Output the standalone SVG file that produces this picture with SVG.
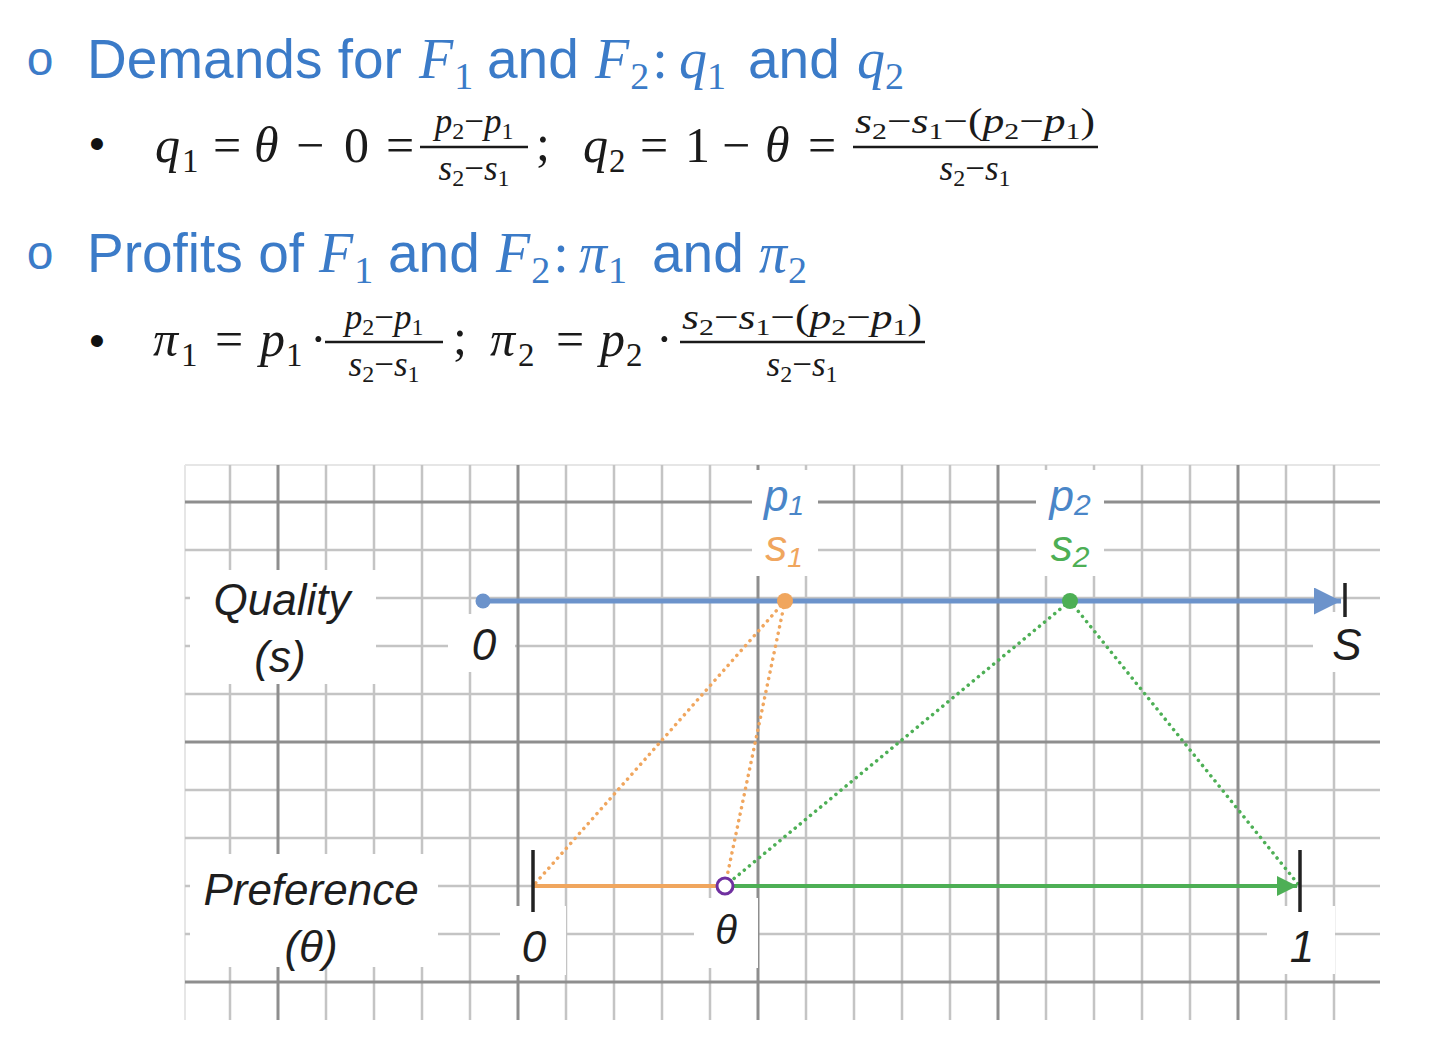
<svg xmlns="http://www.w3.org/2000/svg" width="1440" height="1039" viewBox="0 0 1440 1039">
<style>
.title{font-family:"Liberation Sans",Arial,sans-serif;font-size:55px;fill:#3B7BC8}
.tm{font-family:"Liberation Serif","DejaVu Serif",serif;font-style:italic;font-size:56px;fill:#3B7BC8}
.ts{font-style:normal;font-size:38px}
.tc{font-style:normal}
.bul{font-family:"Liberation Sans",Arial,sans-serif;font-size:48px;fill:#3B7BC8;text-anchor:middle}
.dot{font-family:"Liberation Sans",Arial,sans-serif;font-size:44px;fill:#111;text-anchor:middle}
.mi{font-family:"Liberation Serif","DejaVu Serif",serif;font-style:italic;font-size:50px;fill:#1a1a1a}
.mn{font-family:"Liberation Serif","DejaVu Serif",serif;font-size:50px;fill:#1a1a1a}
.ms{font-family:"Liberation Serif","DejaVu Serif",serif;font-size:33px;fill:#1a1a1a}
.fr{font-family:"Liberation Serif","DejaVu Serif",serif;font-size:35px;fill:#1a1a1a;text-anchor:middle}
.fi{font-style:italic}
.bar{stroke:#1a1a1a;stroke-width:2.5}
.gmin{stroke:#c4c4c4;stroke-width:2.5}
.gmaj{stroke:#8e8e8e;stroke-width:3}
.gedge{stroke:#e6e6e6;stroke-width:2}
.lbl{font-family:"Liberation Sans",Arial,sans-serif;font-style:italic;font-size:44px;fill:#1e1e1e;text-anchor:middle}
.tick{stroke:#222;stroke-width:3.5}
.dotted{fill:none;stroke-width:3.5;stroke-linecap:round;stroke-dasharray:0.1 6.5}
</style>
<defs>
<marker id="arrBlue" viewBox="0 0 10 10" refX="10" refY="5" markerWidth="5.4" markerHeight="5.4" markerUnits="strokeWidth" orient="auto"><path d="M0,0 L10,5 L0,10 z" fill="#6C93CB"/></marker>
<marker id="arrGreen" viewBox="0 0 10 10" refX="10" refY="5" markerWidth="5.8" markerHeight="5" markerUnits="strokeWidth" orient="auto"><path d="M0,0 L10,5 L0,10 z" fill="#4DAF55"/></marker>
</defs>
<rect width="1440" height="1039" fill="#ffffff"/>

<g id="heading-demands">
<text class="bul" x="40" y="75">o</text>
<text class="title" x="87" y="78">Demands for</text>
<text class="tm" x="419" y="78">F<tspan class="ts" dx="1" dy="11">1</tspan></text>
<text class="title" x="487" y="78">and</text>
<text class="tm" x="595" y="78">F<tspan class="ts" dx="1" dy="11">2</tspan><tspan class="tc" dx="3" dy="-11">:</tspan></text>
<text class="tm" x="679" y="78">q<tspan class="ts" dx="0" dy="11">1</tspan></text>
<text class="title" x="748" y="78">and</text>
<text class="tm" x="857" y="78">q<tspan class="ts" dx="0" dy="11">2</tspan></text>
</g>

<g id="formula-demands">
<text class="dot" x="97" y="159">•</text>
<text class="mi" x="155" y="162">q</text><text class="ms" x="182" y="172">1</text>
<text class="mn" x="213" y="162">=</text>
<text class="mi" x="254" y="162">θ</text>
<text class="mn" x="296" y="162">−</text>
<text class="mn" x="344" y="162">0</text>
<text class="mn" x="386" y="162">=</text>
<line class="bar" x1="420" y1="147" x2="528" y2="147"/>
<text class="fr" x="474" y="133"><tspan class="fi">p</tspan><tspan font-size="24" dy="6">2</tspan><tspan dy="-6">−</tspan><tspan class="fi">p</tspan><tspan font-size="24" dy="6">1</tspan></text>
<text class="fr" x="474" y="180"><tspan class="fi">s</tspan><tspan font-size="24" dy="6">2</tspan><tspan dy="-6">−</tspan><tspan class="fi">s</tspan><tspan font-size="24" dy="6">1</tspan></text>
<text class="mn" x="536" y="160">;</text>
<text class="mi" x="583" y="162">q</text><text class="ms" x="609" y="172">2</text>
<text class="mn" x="640" y="162">=</text>
<text class="mn" x="685" y="162">1</text>
<text class="mn" x="722" y="162">−</text>
<text class="mi" x="765" y="162">θ</text>
<text class="mn" x="808" y="162">=</text>
<line class="bar" x1="853" y1="147" x2="1098" y2="147"/>
<text class="fr" x="975" y="133" textLength="240" lengthAdjust="spacingAndGlyphs"><tspan class="fi">s</tspan><tspan font-size="24" dy="6">2</tspan><tspan dy="-6">−</tspan><tspan class="fi">s</tspan><tspan font-size="24" dy="6">1</tspan><tspan dy="-6">−(</tspan><tspan class="fi">p</tspan><tspan font-size="24" dy="6">2</tspan><tspan dy="-6">−</tspan><tspan class="fi">p</tspan><tspan font-size="24" dy="6">1</tspan><tspan dy="-6">)</tspan></text>
<text class="fr" x="975" y="180"><tspan class="fi">s</tspan><tspan font-size="24" dy="6">2</tspan><tspan dy="-6">−</tspan><tspan class="fi">s</tspan><tspan font-size="24" dy="6">1</tspan></text>
</g>

<g id="heading-profits">
<text class="bul" x="40" y="269">o</text>
<text class="title" x="87" y="272">Profits of</text>
<text class="tm" x="319" y="272">F<tspan class="ts" dx="1" dy="11">1</tspan></text>
<text class="title" x="388" y="272">and</text>
<text class="tm" x="496" y="272">F<tspan class="ts" dx="1" dy="11">2</tspan><tspan class="tc" dx="3" dy="-11">:</tspan></text>
<text class="tm" x="579" y="272">π<tspan class="ts" dx="1" dy="11">1</tspan></text>
<text class="title" x="652" y="272">and</text>
<text class="tm" x="759" y="272">π<tspan class="ts" dx="1" dy="11">2</tspan></text>
</g>

<g id="formula-profits">
<text class="dot" x="97" y="356">•</text>
<text class="mi" x="153" y="356">π</text><text class="ms" x="181" y="366">1</text>
<text class="mn" x="215" y="356">=</text>
<text class="mi" x="260" y="356">p</text><text class="ms" x="286" y="366">1</text>
<text class="mn" x="310" y="356">·</text>
<line class="bar" x1="325" y1="342" x2="443" y2="342"/>
<text class="fr" x="384" y="329"><tspan class="fi">p</tspan><tspan font-size="24" dy="6">2</tspan><tspan dy="-6">−</tspan><tspan class="fi">p</tspan><tspan font-size="24" dy="6">1</tspan></text>
<text class="fr" x="384" y="376"><tspan class="fi">s</tspan><tspan font-size="24" dy="6">2</tspan><tspan dy="-6">−</tspan><tspan class="fi">s</tspan><tspan font-size="24" dy="6">1</tspan></text>
<text class="mn" x="453" y="354">;</text>
<text class="mi" x="490" y="356">π</text><text class="ms" x="518" y="366">2</text>
<text class="mn" x="556" y="356">=</text>
<text class="mi" x="600" y="356">p</text><text class="ms" x="626" y="366">2</text>
<text class="mn" x="656" y="356">·</text>
<line class="bar" x1="680" y1="342" x2="925" y2="342"/>
<text class="fr" x="802" y="329" textLength="240" lengthAdjust="spacingAndGlyphs"><tspan class="fi">s</tspan><tspan font-size="24" dy="6">2</tspan><tspan dy="-6">−</tspan><tspan class="fi">s</tspan><tspan font-size="24" dy="6">1</tspan><tspan dy="-6">−(</tspan><tspan class="fi">p</tspan><tspan font-size="24" dy="6">2</tspan><tspan dy="-6">−</tspan><tspan class="fi">p</tspan><tspan font-size="24" dy="6">1</tspan><tspan dy="-6">)</tspan></text>
<text class="fr" x="802" y="376"><tspan class="fi">s</tspan><tspan font-size="24" dy="6">2</tspan><tspan dy="-6">−</tspan><tspan class="fi">s</tspan><tspan font-size="24" dy="6">1</tspan></text>
</g>

<g id="grid">
<line class="gedge" x1="185" y1="465" x2="1380" y2="465"/>
<line class="gedge" x1="185" y1="465" x2="185" y2="1020"/>
<g class="gmin">
<line x1="230" y1="465" x2="230" y2="1020"/>
<line x1="326" y1="465" x2="326" y2="1020"/>
<line x1="374" y1="465" x2="374" y2="1020"/>
<line x1="422" y1="465" x2="422" y2="1020"/>
<line x1="470" y1="465" x2="470" y2="1020"/>
<line x1="566" y1="465" x2="566" y2="1020"/>
<line x1="614" y1="465" x2="614" y2="1020"/>
<line x1="662" y1="465" x2="662" y2="1020"/>
<line x1="710" y1="465" x2="710" y2="1020"/>
<line x1="806" y1="465" x2="806" y2="1020"/>
<line x1="854" y1="465" x2="854" y2="1020"/>
<line x1="902" y1="465" x2="902" y2="1020"/>
<line x1="950" y1="465" x2="950" y2="1020"/>
<line x1="1046" y1="465" x2="1046" y2="1020"/>
<line x1="1094" y1="465" x2="1094" y2="1020"/>
<line x1="1142" y1="465" x2="1142" y2="1020"/>
<line x1="1190" y1="465" x2="1190" y2="1020"/>
<line x1="1286" y1="465" x2="1286" y2="1020"/>
<line x1="1334" y1="465" x2="1334" y2="1020"/>
<line x1="185" y1="550" x2="1380" y2="550"/>
<line x1="185" y1="598" x2="1380" y2="598"/>
<line x1="185" y1="646" x2="1380" y2="646"/>
<line x1="185" y1="694" x2="1380" y2="694"/>
<line x1="185" y1="790" x2="1380" y2="790"/>
<line x1="185" y1="838" x2="1380" y2="838"/>
<line x1="185" y1="886" x2="1380" y2="886"/>
<line x1="185" y1="934" x2="1380" y2="934"/>
</g>
<g class="gmaj">
<line x1="278" y1="465" x2="278" y2="1020"/>
<line x1="518" y1="465" x2="518" y2="1020"/>
<line x1="758" y1="465" x2="758" y2="1020"/>
<line x1="998" y1="465" x2="998" y2="1020"/>
<line x1="1238" y1="465" x2="1238" y2="1020"/>
<line x1="185" y1="502" x2="1380" y2="502"/>
<line x1="185" y1="742" x2="1380" y2="742"/>
<line x1="185" y1="982" x2="1380" y2="982"/>
</g>
<g fill="#ffffff">
<rect x="190" y="570" width="186" height="114"/>
<rect x="448" y="614" width="67" height="58"/>
<rect x="752" y="470" width="66" height="106"/>
<rect x="1036" y="470" width="68" height="106"/>
<rect x="1313" y="612" width="67" height="60"/>
<rect x="190" y="854" width="248" height="113"/>
<rect x="500" y="906" width="66" height="69"/>
<rect x="694" y="898" width="64" height="70"/>
<rect x="1267" y="906" width="68" height="68"/>
</g>
</g>

<g id="connectors">
<line x1="483" y1="601" x2="1341" y2="601" stroke="#6C93CB" stroke-width="5" marker-end="url(#arrBlue)"/>
<line x1="533" y1="886" x2="725" y2="886" stroke="#F0A65E" stroke-width="4"/>
<line x1="733" y1="886" x2="1297" y2="886" stroke="#4DAF55" stroke-width="4" marker-end="url(#arrGreen)"/>
<line class="dotted" x1="785" y1="601" x2="533" y2="886" stroke="#F0A65E"/>
<line class="dotted" x1="785" y1="601" x2="725" y2="886" stroke="#F0A65E"/>
<line class="dotted" x1="1070" y1="601" x2="725" y2="886" stroke="#4DAF55"/>
<line class="dotted" x1="1070" y1="601" x2="1298" y2="884" stroke="#4DAF55"/>
</g>

<g id="quality-axis">
<text class="lbl" x="282" y="615">Quality</text>
<text class="lbl" x="280" y="672">(s)</text>
<circle cx="483" cy="601" r="7.5" fill="#6C93CB"/>
<text class="lbl" x="484" y="660">0</text>
<line class="tick" x1="1345" y1="583" x2="1345" y2="617"/>
<text class="lbl" x="1347" y="660" font-style="normal">S</text>
</g>

<g id="node-s1">
<text class="lbl" x="784" y="511" style="fill:#4A86C8">p<tspan font-size="28" dy="4">1</tspan></text>
<text class="lbl" x="784" y="561" style="fill:#F0A65E">s<tspan font-size="28" dy="6">1</tspan></text>
<circle cx="785" cy="601" r="8" fill="#F0A65E"/>
</g>

<g id="node-s2">
<text class="lbl" x="1070" y="511" style="fill:#4A86C8">p<tspan font-size="30" dy="4">2</tspan></text>
<text class="lbl" x="1070" y="561" style="fill:#4DAF55">s<tspan font-size="30" dy="6">2</tspan></text>
<circle cx="1070" cy="601" r="8" fill="#4DAF55"/>
</g>

<g id="preference-axis">
<text class="lbl" x="311" y="905">Preference</text>
<text class="lbl" x="311" y="962">(θ)</text>
<line class="tick" x1="533" y1="850" x2="533" y2="912"/>
<text class="lbl" x="534" y="962">0</text>
<line class="tick" x1="1300" y1="850" x2="1300" y2="912"/>
<text class="lbl" x="1302" y="962">1</text>
</g>

<g id="node-theta">
<circle cx="725" cy="886" r="8" fill="#ffffff" stroke="#7030A0" stroke-width="3"/>
<text class="lbl" x="726" y="944" style="font-size:40px">θ</text>
</g>
</svg>
